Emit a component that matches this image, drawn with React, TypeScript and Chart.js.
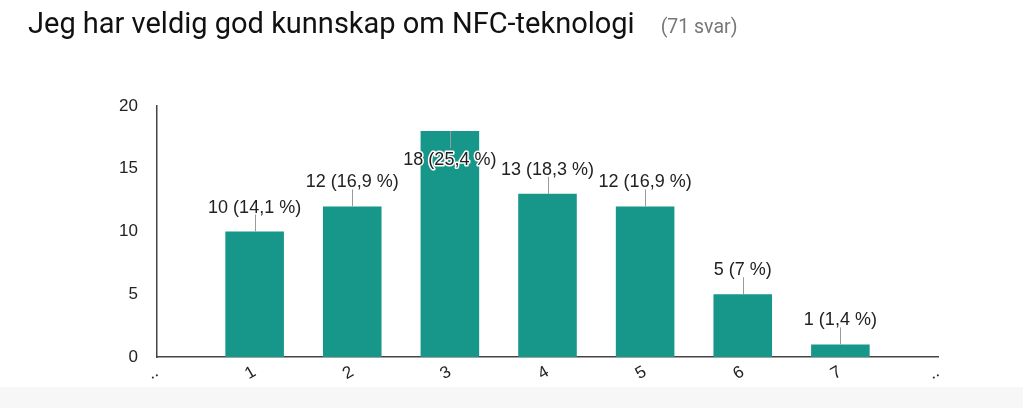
import React, { useEffect, useRef } from "react";
import { Chart, registerables } from "chart.js";

Chart.register(...registerables);

const titleText = "Jeg har veldig god kunnskap om NFC-teknologi";
const responseText = "(71 svar)";
const categories = ["..", "1", "2", "3", "4", "5", "6", "7", ".."];
const counts: (number | null)[] = [null, 10, 12, 18, 13, 12, 5, 1, null];
const percents: (number | null)[] = [null, 14.1, 16.9, 25.4, 18.3, 16.9, 7, 1.4, null];
const yTicks = [0, 5, 10, 15, 20];

const BAR_COLOR = "#17968a";
const LABEL_FONT = "18px 'Liberation Sans', Arial, sans-serif";

function fmtPct(p: number): string {
  return String(p).replace(".", ",") + " %";
}

const valueLabelPlugin = {
  id: "valueLabels",
  afterDatasetsDraw(chart: any) {
    const ctx = chart.ctx;
    const meta = chart.getDatasetMeta(0);
    const area = chart.chartArea;
    ctx.save();
    ctx.font = LABEL_FONT;
    ctx.textAlign = "center";
    ctx.textBaseline = "alphabetic";
    meta.data.forEach((bar: any, i: number) => {
      const v = counts[i];
      const p = percents[i];
      if (v == null || p == null) return;
      const text = `${v} (${fmtPct(p)})`;
      const x = bar.x;
      const top = bar.y;
      const inside = top - 32 < area.top;
      ctx.strokeStyle = "#9a9a9a";
      ctx.lineWidth = 1;
      ctx.beginPath();
      if (inside) {
        ctx.moveTo(Math.round(x) + 0.5, top);
        ctx.lineTo(Math.round(x) + 0.5, top + 17);
      } else {
        ctx.moveTo(Math.round(x) + 0.5, top);
        ctx.lineTo(Math.round(x) + 0.5, top - 17);
      }
      ctx.stroke();
      const ty = inside ? top + 34 : top - 19;
      if (inside) {
        ctx.lineWidth = 3;
        ctx.strokeStyle = "#ffffff";
        ctx.lineJoin = "round";
        ctx.strokeText(text, x, ty);
      }
      ctx.fillStyle = "#222222";
      ctx.fillText(text, x, ty);
    });
    ctx.restore();
  },
};

export default function App() {
  const canvasRef = useRef<HTMLCanvasElement | null>(null);

  useEffect(() => {
    if (!canvasRef.current) return;
    const chart = new Chart(canvasRef.current, {
      type: "bar",
      data: {
        labels: categories,
        datasets: [
          {
            data: counts as any,
            backgroundColor: BAR_COLOR,
            borderWidth: 0,
            barPercentage: 0.6,
            categoryPercentage: 1,
          },
        ],
      },
      options: {
        animation: false,
        responsive: false,
        maintainAspectRatio: false,
        layout: { padding: { left: 0, top: 106, right: 85, bottom: 0 } },
        plugins: {
          legend: { display: false },
          tooltip: { enabled: false },
          title: { display: false },
        },
        scales: {
          x: {
            type: "category",
            offset: false,
            grid: { display: false, drawTicks: false, offset: false },
            border: { display: true, color: "#444444", width: 1.5 },
            ticks: {
              color: "#222222",
              font: { family: "'Liberation Sans', Arial, sans-serif", size: 17 },
              minRotation: 30,
              maxRotation: 30,
              padding: 5,
              autoSkip: false,
            },
            afterFit(scale: any) {
              scale.height = 51;
            },
          },
          y: {
            min: 0,
            max: 20,
            afterBuildTicks(scale: any) {
              scale.ticks = yTicks.map((v) => ({ value: v }));
            },
            grid: { display: false, drawTicks: false },
            border: { display: true, color: "#444444", width: 1.5 },
            ticks: {
              color: "#222222",
              font: { family: "'Liberation Sans', Arial, sans-serif", size: 17 },
              padding: 19,
            },
            afterFit(scale: any) {
              scale.width = 157;
            },
          },
        },
      } as any,
      plugins: [valueLabelPlugin],
    });
    return () => chart.destroy();
  }, []);

  return (
    <div
      style={{
        position: "fixed",
        left: 0,
        top: 0,
        width: 1023,
        height: 408,
        background: "#ffffff",
        overflow: "hidden",
      }}
    >
      <div
        style={{
          position: "absolute",
          left: 0,
          top: 387,
          width: 1023,
          height: 21,
          background: "#f7f7f7",
        }}
      />
      <canvas
        ref={canvasRef}
        width={1023}
        height={408}
        style={{ position: "absolute", left: 0, top: 0, width: 1023, height: 408 }}
      />
      <div
        style={{
          position: "absolute",
          left: 28,
          top: 9,
          whiteSpace: "nowrap",
          fontFamily: "Roboto, 'Noto Sans', sans-serif",
          lineHeight: "29px",
        }}
      >
        <span style={{ fontSize: 29, color: "#111111" }}>{titleText}</span>
        <span style={{ fontSize: 19.5, color: "#777777", marginLeft: 26 }}>{responseText}</span>
      </div>
    </div>
  );
}
